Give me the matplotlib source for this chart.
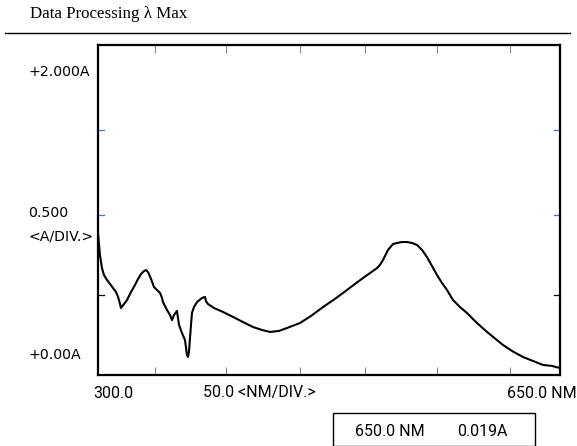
import matplotlib
matplotlib.use("Agg")
import matplotlib.pyplot as plt

# Spectrum data (wavelength in nm, absorbance in A)
wavelength = [300.0, 300.8, 301.5, 303.0, 304.5, 306.8, 309.1, 311.4, 313.6, 315.2,
              316.7, 317.4, 319.7, 322.0, 325.0, 328.0, 330.3, 332.6, 334.8, 336.4,
              337.9, 340.2, 342.4, 344.7, 347.0, 348.5, 349.2, 352.3, 354.5, 356.1,
              357.6, 359.8, 361.4, 363.6, 365.9, 366.7, 367.4, 368.2, 368.9, 369.7,
              370.5, 371.2, 372.7, 375.0, 378.8, 381.1, 381.8, 383.3, 387.9, 394.7,
              402.3, 409.8, 417.4, 424.2, 430.3, 437.1, 443.2, 453.0, 461.4, 470.5,
              479.5, 488.6, 494.7, 500.8, 506.1, 511.4, 513.6, 515.9, 519.7, 523.5,
              526.5, 530.3, 534.1, 537.9, 541.7, 545.5, 549.2, 553.0, 556.8, 560.6,
              564.4, 568.9, 574.2, 579.5, 587.1, 594.7, 606.8, 614.4, 622.0, 629.5,
              637.1, 643.9, 650.0]
absorbance = [0.861, 0.788, 0.727, 0.648, 0.606, 0.576, 0.552, 0.527, 0.503, 0.473,
              0.430, 0.406, 0.430, 0.455, 0.503, 0.545, 0.582, 0.612, 0.630, 0.636,
              0.624, 0.582, 0.533, 0.515, 0.497, 0.467, 0.442, 0.394, 0.364, 0.333,
              0.364, 0.388, 0.303, 0.255, 0.212, 0.164, 0.121, 0.109, 0.139, 0.224,
              0.309, 0.376, 0.412, 0.442, 0.467, 0.473, 0.448, 0.430, 0.406, 0.382,
              0.352, 0.321, 0.291, 0.273, 0.261, 0.267, 0.285, 0.315, 0.358, 0.412,
              0.461, 0.515, 0.552, 0.588, 0.618, 0.648, 0.667, 0.697, 0.758, 0.794,
              0.800, 0.806, 0.806, 0.800, 0.788, 0.758, 0.715, 0.661, 0.606, 0.558,
              0.515, 0.455, 0.412, 0.376, 0.315, 0.261, 0.182, 0.142, 0.109, 0.085,
              0.061, 0.055, 0.042]

x_ticks = [343, 397, 453, 502, 557, 612]
y_ticks = [1.485, 0.970, 0.485]
y_tick_colors = ["#4472c4", "#4472c4", "black"]

title = "Data Processing λ Max"
y_labels = ["+2.000A", "0.500", "<A/DIV.>", "+0.00A"]
x_labels = ["300.0", "50.0 <NM/DIV.>", "650.0 NM"]
readout = ["650.0 NM", "0.019A"]

fig = plt.figure(figsize=(5.77, 4.46), dpi=100)
ax = fig.add_axes([98/577, 1-375/446, (560-98)/577, (375-45)/446])
ax.plot(wavelength, absorbance, color="black", lw=1.5,
        solid_joinstyle="round", solid_capstyle="round")
ax.set_xlim(300, 650)
ax.set_ylim(0, 2.0)
for s in ax.spines.values():
    s.set_linewidth(1.6)
    s.set_color("black")

ax.set_xticks(x_ticks)
ax.set_yticks([])
ax.tick_params(axis="x", direction="in", top=True, bottom=True, length=6,
               width=0.8, color="#888888", labelbottom=False)

# coloured y ticks (inside, both sides)
ytr = ax.get_yaxis_transform()
tick_len = 6 / 462
for yv, c in zip(y_ticks, y_tick_colors):
    ax.plot([0, tick_len], [yv, yv], transform=ytr, color=c, lw=0.9,
            clip_on=False)
    ax.plot([1 - tick_len, 1], [yv, yv], transform=ytr, color=c, lw=0.9,
            clip_on=False)

# title and rule
fig.text(30/577, 1-14/446, title, family="Liberation Serif", fontsize=12.2,
         va="center", ha="left")
fig.add_artist(plt.Line2D([5/577, 570/577], [1-33/446, 1-33/446],
                          color="black", lw=1.0))

# y labels
lab_font = "DejaVu Sans"
ys = [72, 213, 236, 355]
for lab, y in zip(y_labels, ys):
    fig.text(28/577, 1-y/446, lab, family=lab_font, fontsize=10.2,
             va="center", ha="left")

# x labels
xfont = "Roboto"
fs = 11.5
fig.text(93/577, 1-393/446, x_labels[0], family=xfont, fontsize=fs,
         va="center", ha="left")
fig.text(203/577, 1-393/446, x_labels[1], family=xfont, fontsize=fs,
         va="center", ha="left")
fig.text(577/577, 1-393/446, x_labels[2], family=xfont, fontsize=fs,
         va="center", ha="right")

# readout box
fig.add_artist(plt.Rectangle((333/577, 0), (535-333)/577, (446-413)/446,
                             transform=fig.transFigure, fill=False,
                             edgecolor="black", lw=1.0))
fig.text(355/577, 1-432/446, readout[0], family=xfont, fontsize=fs,
         va="center", ha="left")
fig.text(457/577, 1-432/446, readout[1], family=xfont, fontsize=fs,
         va="center", ha="left")

fig.savefig("out.png", dpi=100)
